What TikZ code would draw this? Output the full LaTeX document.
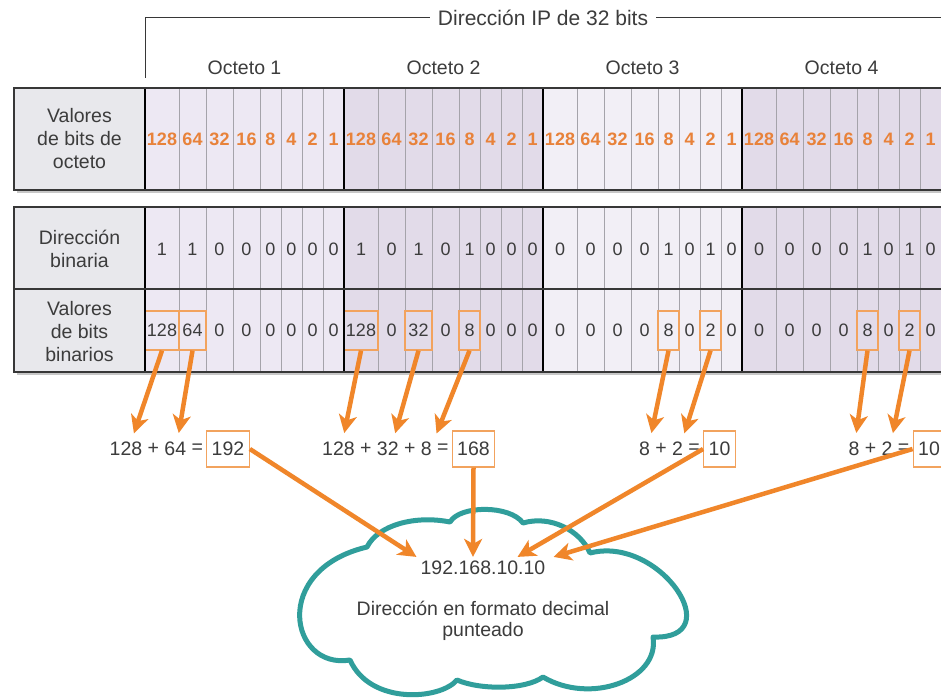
\documentclass[tikz,border=0pt]{standalone}
\usepackage{fontspec}
\setmainfont{Liberation Sans}
\usetikzlibrary{arrows.meta, positioning}
\definecolor{textgray}{RGB}{60, 60, 60}
\definecolor{arroworange}{RGB}{240, 134, 42}
\definecolor{boxorange}{RGB}{242, 163, 94}
\definecolor{bitorange}{RGB}{232, 130, 58}
\definecolor{cloudteal}{RGB}{48, 158, 155}
\definecolor{headgray}{RGB}{232, 232, 236}
\definecolor{octlight}{RGB}{237, 232, 243}
\definecolor{octpale}{RGB}{242, 239, 246}
\definecolor{octdark}{RGB}{226, 219, 233}
\definecolor{gridgray}{RGB}{165, 163, 170}
\definecolor{framegray}{RGB}{55, 55, 55}

\tikzset{
    hdrtext/.style={text=textgray, align=center, font=\fontsize{19.5}{23}\selectfont},
    bitval/.style={text=bitorange, font=\fontsize{18}{20}\selectfont\bfseries, inner sep=0pt},
    bitnum/.style={text=textgray, font=\fontsize{18}{20}\selectfont, inner sep=0pt},
    hlbox/.style={bitnum, draw=boxorange, line width=1.2pt, minimum height=39pt},
    eqterm/.style={text=textgray, font=\fontsize{19.5}{22}\selectfont, inner sep=0pt},
    resbox/.style={eqterm, draw=boxorange, line width=1.2pt, minimum height=36pt, inner xsep=5pt},
    bitarrow/.style={draw=arroworange, line width=4.5pt, -{Stealth[length=18pt, width=18pt, inset=5pt]}}
}

\begin{document}
\begin{tikzpicture}[x=1pt, y=-1pt]
    \clip (0,0) rectangle (941,698);
    \fill[white] (0,0) rectangle (941,698);

    % bracket and labels
    \coordinate (brk-foot) at (145,78);
    \coordinate (brk-corner) at (145,18);
    \coordinate (brk-end) at (960,18);
    \draw[framegray, line width=1pt] (brk-foot) -- (brk-corner) -- (brk-end);
    \node[fill=white, text=textgray, font=\fontsize{21}{24}\selectfont, inner xsep=8pt] (title) at (543,18) {Dirección IP de 32 bits};
    \foreach \o [count=\n] in {0,...,3}
        \node[hdrtext] (oct-\o) at (244.5+199*\o,68) {Octeto \n};

    % tables
    \fill[black!22] (17,91) rectangle (960,193);
    \fill[black!22] (17,210) rectangle (960,375);
    \fill[headgray] (14,88) rectangle (145,190);
    \fill[headgray] (14,207) rectangle (145,372);
    \foreach \o/\oc in {0/octlight, 1/octdark, 2/octpale, 3/octdark} {
        \fill[\oc] (145+199*\o,88) rectangle ++(199,102);
        \fill[\oc] (145+199*\o,207) rectangle ++(199,165);
    }
    \foreach \o in {0,...,3}
        \foreach \l in {34,61,88,115,136,157,178}
            \draw[gridgray, line width=0.8pt] (145+199*\o+\l,88) -- ++(0,102) (145+199*\o+\l,207) -- ++(0,165);

    \node[hdrtext] (hdr-val) at (79.5,139) {Valores\\de bits de\\octeto};
    \node[hdrtext] (hdr-bin) at (79.5,249) {Dirección\\binaria};
    \node[hdrtext] (hdr-dec) at (79.5,332) {Valores\\de bits\\binarios};

    \def\binbits{{1,1,0,0,0,0,0,0, 1,0,1,0,1,0,0,0, 0,0,0,0,1,0,1,0, 0,0,0,0,1,0,1,0}}
    \foreach \o in {0,...,3}
        \foreach \c/\l/\w [count=\i from 0] in {128/0/34, 64/34/27, 32/61/27, 16/88/27, 8/115/21, 4/136/21, 2/157/21, 1/178/21} {
            \pgfmathsetmacro\cx{145+199*\o+\l+\w/2}
            \pgfmathtruncatemacro\b{\binbits[8*\o+\i]}
            \pgfmathtruncatemacro\d{\b*\c}
            \node[bitval] (val-\o-\i) at (\cx,139) {\c};
            \node[bitnum] (bin-\o-\i) at (\cx,249) {\b};
            \ifnum\d>0
                \node[hlbox, minimum width=\w pt] (dec-\o-\i) at (\cx,330.5) {\d};
            \else
                \node[bitnum] (dec-\o-\i) at (\cx,330.5) {\d};
            \fi
        }

    \foreach \o in {0,...,3}
        \draw[black, line width=2.2pt] (145+199*\o,88) -- ++(0,102) (145+199*\o,207) -- ++(0,165);
    \draw[framegray, line width=2pt] (14,289) -- (960,289);
    \draw[framegray, line width=2.5pt] (14,88) rectangle (960,190);
    \draw[framegray, line width=2.5pt] (14,207) rectangle (960,372);

    % sums
    \node[resbox] (res-1) at (228,449) {192};
    \node[eqterm, left=3pt of res-1] (eq-1-e) {=};
    \node[eqterm, left=5pt of eq-1-e] (eq-1-b) {64};
    \node[eqterm, left=5pt of eq-1-b] (eq-1-p) {+};
    \node[eqterm, left=5pt of eq-1-p] (eq-1-a) {128};

    \node[resbox] (res-2) at (473.5,449) {168};
    \node[eqterm, left=3pt of res-2] (eq-2-e) {=};
    \node[eqterm, left=5pt of eq-2-e] (eq-2-c) {8};
    \node[eqterm, left=5pt of eq-2-c] (eq-2-q) {+};
    \node[eqterm, left=5pt of eq-2-q] (eq-2-b) {32};
    \node[eqterm, left=5pt of eq-2-b] (eq-2-p) {+};
    \node[eqterm, left=5pt of eq-2-p] (eq-2-a) {128};

    \node[resbox] (res-3) at (719.5,449) {10};
    \node[eqterm, left=3pt of res-3] (eq-3-e) {=};
    \node[eqterm, left=5pt of eq-3-e] (eq-3-b) {2};
    \node[eqterm, left=5pt of eq-3-b] (eq-3-p) {+};
    \node[eqterm, left=5pt of eq-3-p] (eq-3-a) {8};

    \node[resbox] (res-4) at (929,449) {10};
    \node[eqterm, left=3pt of res-4] (eq-4-e) {=};
    \node[eqterm, left=5pt of eq-4-e] (eq-4-b) {2};
    \node[eqterm, left=5pt of eq-4-b] (eq-4-p) {+};
    \node[eqterm, left=5pt of eq-4-p] (eq-4-a) {8};

    % cloud
    \draw[cloudteal, line width=5pt, line join=round]
        (367,547) .. controls (378,525) and (415,515) .. (450,522)
        .. controls (460,505) and (510,505) .. (523,523)
        .. controls (550,515) and (580,530) .. (590,553)
        .. controls (660,535) and (730,640) .. (653,637)
        .. controls (660,680) and (590,705) .. (543,677)
        .. controls (525,690) and (480,690) .. (457,680)
        .. controls (440,700) and (370,705) .. (350,660)
        .. controls (290,670) and (270,570) .. cycle;
    \node[eqterm, inner sep=4pt] (ipdec) at (483,568) {192.168.10.10};
    \node[hdrtext, font=\fontsize{19.5}{21}\selectfont] (ipnote) at (483,621) {Dirección en formato decimal\\punteado};

    % arrows
    \draw[bitarrow, shorten >=9pt] (dec-0-0.south) -- ([xshift=5pt]eq-1-a.north);
    \draw[bitarrow, shorten >=9pt] (dec-0-1.south) -- ([xshift=2pt]eq-1-b.north);
    \draw[bitarrow, shorten >=9pt] (dec-1-0.south) -- ([xshift=4pt]eq-2-a.north);
    \draw[bitarrow, shorten >=9pt] (dec-1-2.south) -- ([xshift=5pt]eq-2-b.north);
    \draw[bitarrow, shorten >=9pt] (dec-1-4.south) -- ([xshift=7pt]eq-2-c.north);
    \draw[bitarrow, shorten >=9pt] (dec-2-4.south) -- ([xshift=5pt]eq-3-a.north);
    \draw[bitarrow, shorten >=9pt] (dec-2-6.south) -- ([xshift=4pt]eq-3-b.north);
    \draw[bitarrow, shorten >=9pt] (dec-3-4.south) -- ([xshift=1pt]eq-4-a.north);
    \draw[bitarrow, shorten >=9pt] (dec-3-6.south) -- ([xshift=4pt]eq-4-b.north);

    \draw[bitarrow] (res-1.east) -- (ipdec.north west);
    \draw[bitarrow] (res-2.south) -- ([xshift=-10pt]ipdec.north);
    \draw[bitarrow] (res-3.west) -- ([xshift=-32pt]ipdec.north east);
    \draw[bitarrow] (res-4.west) -- ([xshift=4pt]ipdec.north east);
\end{tikzpicture}
\end{document}
